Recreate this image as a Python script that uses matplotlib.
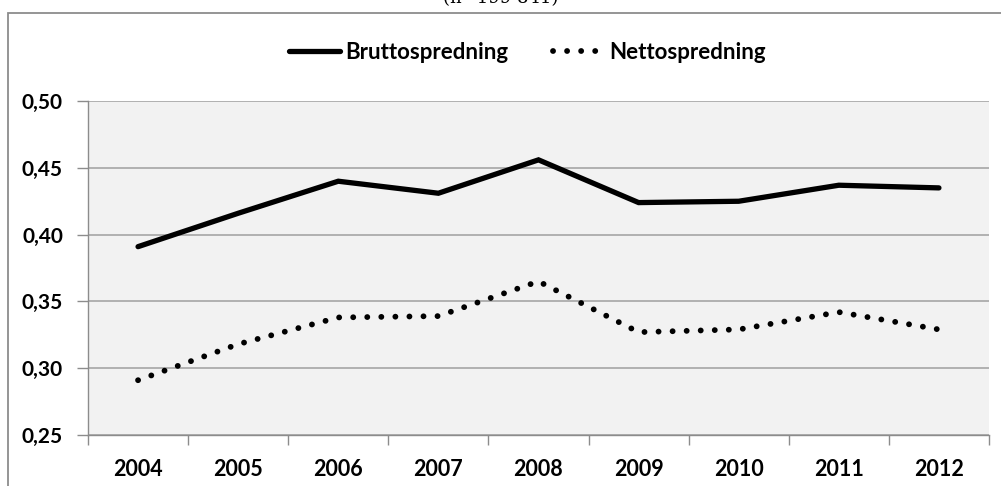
import matplotlib.pyplot as plt
from matplotlib.patches import Rectangle

# Data
years = ['2004', '2005', '2006', '2007', '2008', '2009', '2010', '2011', '2012']
brutto = [0.391, 0.416, 0.440, 0.431, 0.456, 0.424, 0.425, 0.437, 0.435]
netto = [0.291, 0.318, 0.338, 0.339, 0.365, 0.327, 0.329, 0.342, 0.329]
yticks = [0.25, 0.30, 0.35, 0.40, 0.45, 0.50]
ytick_labels = ['0,25', '0,30', '0,35', '0,40', '0,45', '0,50']

plt.rcParams['font.family'] = ['Lato', 'DejaVu Sans']

fig = plt.figure(figsize=(10.01, 4.86), dpi=100)
ax = fig.add_axes([0.0879, 0.105, 0.9001, 0.687])
ax.set_facecolor('#f2f2f2')

x = list(range(len(years)))
ax.plot(x, brutto, color='black', linewidth=3.8, solid_capstyle='round',
        solid_joinstyle='miter', label='Bruttospredning')
ax.plot(x, netto, color='black', linewidth=4.2, linestyle=(0, (0.01, 2.4)),
        dash_capstyle='round', label='Nettospredning')

# Axes
ax.set_xlim(-0.5, len(years) - 0.5)
ax.set_ylim(0.25, 0.50)
ax.set_yticks(yticks)
ax.set_yticklabels(ytick_labels, fontsize=15, fontweight='bold')
ax.set_xticks(x)
ax.set_xticklabels(years, fontsize=15.5, fontweight='bold')
ax.tick_params(axis='x', length=0, pad=17)
ax.set_xticks([i + 0.5 for i in range(-1, len(years))], minor=True)
ax.tick_params(axis='x', which='minor', length=7, color='#8c8c8c', width=1)
ax.tick_params(axis='y', length=8, color='#8c8c8c', width=1, pad=10)

ax.grid(True, axis='y', color='#a6a6a6', linewidth=1.2)
ax.set_axisbelow(True)
for side in ['top', 'right']:
    ax.spines[side].set_visible(False)
for side in ['left', 'bottom']:
    ax.spines[side].set_color('#8c8c8c')
    ax.spines[side].set_linewidth(1)

# Legend above the plot
ax.legend(loc='center', bbox_to_anchor=(0.527, 0.893), bbox_transform=fig.transFigure,
          ncol=2, frameon=False, handlelength=2.3, columnspacing=2.0, handletextpad=0.25,
          prop={'weight': 'bold', 'size': 16})

# Frame around the chart and the cut-off subtitle
fig.patches.append(Rectangle((0.008, -0.1), 1.1, 1.073, transform=fig.transFigure,
                             fill=False, edgecolor='#8c8c8c', linewidth=1.3))
fig.text(0.5, 1.004, '(n=199 841)', ha='center', va='center', fontsize=13,
         family='DejaVu Serif')

plt.savefig('out.png', dpi=100)
